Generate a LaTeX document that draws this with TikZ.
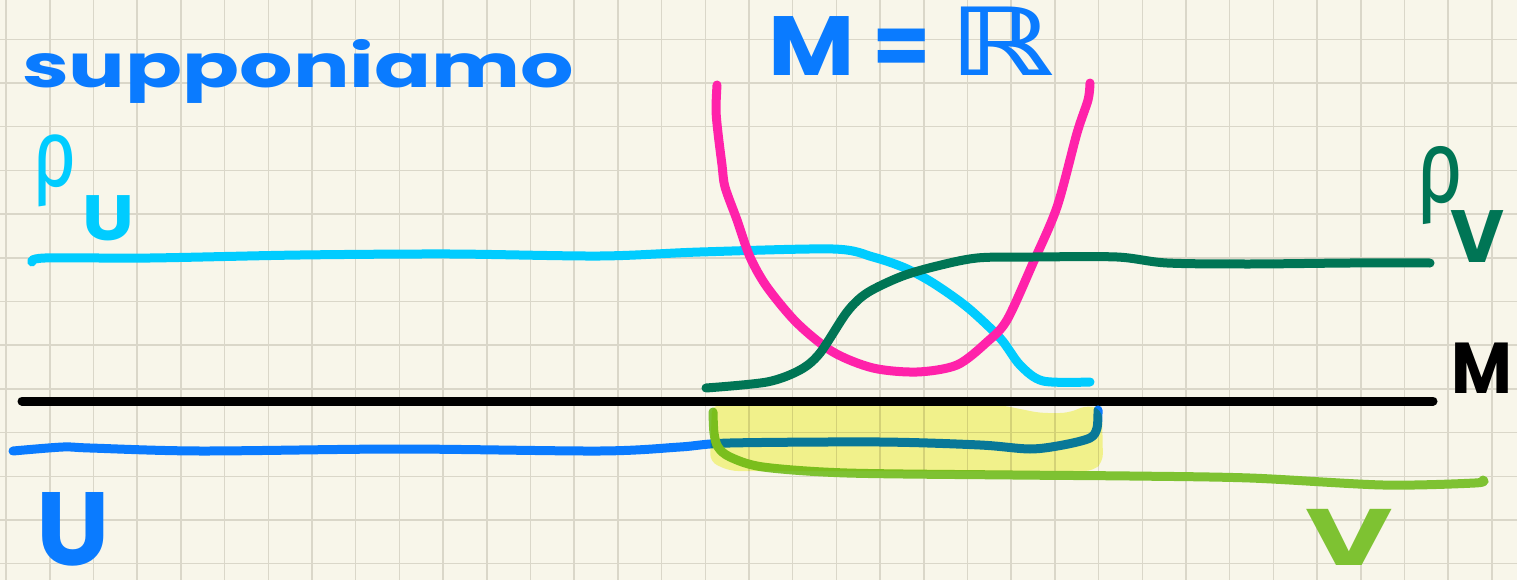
\documentclass[tikz,border=0pt]{standalone}
\usepackage{fontspec}
\setmainfont{Poppins}
\newfontfamily\greekfont{Fira Sans}
\newfontfamily\dsfont{DejaVu Sans}
\definecolor{paper}{HTML}{F8F6EA}
\definecolor{gridc}{HTML}{DAD7C9}
\definecolor{penblue}{HTML}{0A7BFF}
\definecolor{pencyan}{HTML}{00CCFF}
\definecolor{penpink}{HTML}{FF22AA}
\definecolor{pendkgreen}{HTML}{007555}
\definecolor{penltgreen}{HTML}{7EC232}
\definecolor{hilite}{HTML}{F8FA98}
\begin{document}
\begin{tikzpicture}[x=1pt,y=-1pt,
  pen/.style={line width=9pt,line cap=round,line join=round},
  lab/.style={inner sep=0pt,outer sep=0pt,anchor=base west},
  gridline/.style={gridc,line width=1.5pt}]
\useasboundingbox (0,0) rectangle (1517,580);
\clip (0,0) rectangle (1517,580);
\fill[paper] (0,0) rectangle (1517,580);
\foreach \i in {0,...,34} \draw[gridline] ({6.1+43.7*\i},0) -- ({6.1+43.7*\i},580);
\foreach \j in {-1,...,12} \draw[gridline] (0,{39.3+43.7*\j}) -- (1517,{39.3+43.7*\j});

% texts
\node[lab,text=penblue,font=\bfseries\fontsize{60}{60}\selectfont] (title) at (22,88) {\scalebox{1.4}[1]{supponiamo}};
\node[lab,text=penblue,font=\bfseries\fontsize{84}{84}\selectfont] (eq) at (768,76) {\scalebox{1.12}[1]{M} = {\dsfont\bfseries\fontsize{94}{94}\selectfont\scalebox{1.4}[1]{ℝ}}};
\node[lab,text=pencyan,font=\greekfont\fontsize{96}{96}\selectfont] (rhoU) at (32,187) {\scalebox{0.8}[1]{ρ}};
\node[lab,text=pencyan,font=\bfseries\fontsize{64}{64}\selectfont] (subU) at (82,240) {\scalebox{1.15}[1]{U}};
\node[lab,text=pendkgreen,font=\greekfont\fontsize{104}{104}\selectfont] (rhoV) at (1416,203) {\scalebox{0.78}[1]{ρ}};
\node[lab,text=pendkgreen,font=\bfseries\fontsize{74}{74}\selectfont] (subV) at (1450,262) {V};
\node[lab,text=black,font=\bfseries\fontsize{72}{72}\selectfont] (labM) at (1451,393) {\scalebox{0.92}[1]{M}};
\node[lab,text=penblue,font=\bfseries\fontsize{104}{104}\selectfont] (labU) at (36,565) {U};
\node[lab,text=penltgreen,font=\bfseries\fontsize{80}{80}\selectfont] (labV) at (1305,565) {\scalebox{1.5}[1]{V}};

% strokes
\draw[pen,black] (22,401) -- (1433,401);
\draw[pen,pencyan] plot[smooth,tension=0.5] coordinates {(32,262) (45,258) (150,258) (300,255) (450,254) (600,256) (700,252) (833,249) (873,257) (905,268) (933,283) (967,307) (1000,338) (1020,365) (1043,381) (1090,382)};
\draw[pen,penpink] plot[smooth,tension=0.5] coordinates {(717,85) (716,110) (718,133) (722,165) (725,187) (737,220) (750,257) (767,287) (797,323) (833,352) (873,368) (917,372) (957,365) (987,342) (1007,320) (1033,263) (1057,207) (1077,133) (1088,100) (1090,83)};
\draw[pen,pendkgreen] plot[smooth,tension=0.5] coordinates {(706,388) (767,382) (800,370) (820,353) (847,312) (867,293) (900,277) (933,267) (977,258) (1033,257) (1117,257) (1167,263) (1250,264) (1350,263) (1430,263)};
\draw[pen,penblue] plot[smooth,tension=0.5] coordinates {(13,451) (63,447) (90,448) (200,451) (400,449) (600,451) (680,447) (730,443) (880,442) (980,445) (1030,449) (1063,445) (1090,438) (1097,428) (1098,410)};
\draw[pen,penltgreen] plot[smooth,tension=0.5] coordinates {(713,412) (714,433) (718,447) (730,457) (763,467) (847,473) (1013,475) (1130,476) (1250,478) (1383,485) (1475,483) (1483,480)};

% highlight
\begin{scope}[blend mode=multiply]
\fill[hilite,rounded corners=8pt] (712,405) -- (1000,405) -- (1040,413) -- (1068,413) -- (1088,405) -- (1102,410) -- (1103,462) -- (1093,471) -- (730,471) -- (710,462) -- cycle;
\end{scope}
\end{tikzpicture}
\end{document}
